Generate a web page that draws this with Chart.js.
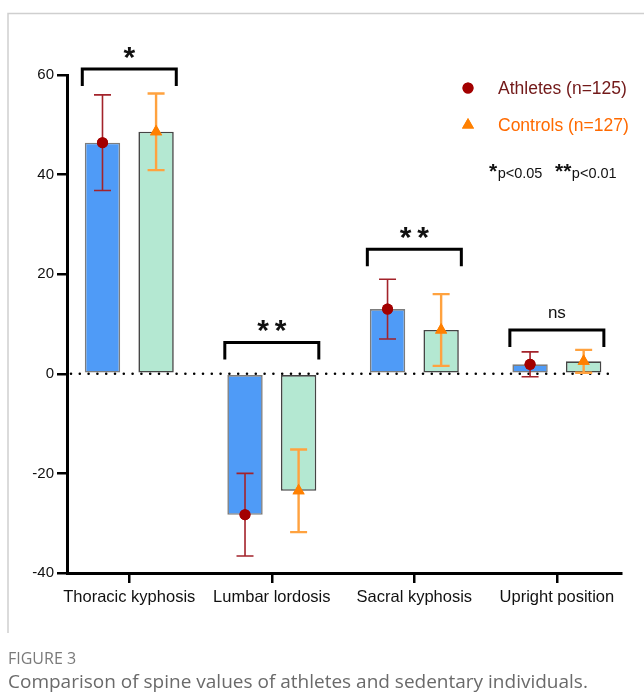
<!DOCTYPE html>
<html>
<head>
<meta charset="utf-8">
<script src="https://cdn.jsdelivr.net/npm/chart.js@4/dist/chart.umd.min.js"></script>
<style>
  html, body { margin: 0; padding: 0; background: #ffffff; }
  #wrap { width: 644px; height: 698px; position: relative; }
  canvas { display: block; }
</style>
</head>
<body>
<div id="wrap"><canvas id="c" width="644" height="698"></canvas></div>
<script>
// ---------------- data ----------------
const categories = ['Thoracic kyphosis', 'Lumbar lordosis', 'Sacral kyphosis', 'Upright position'];
const athletesMean = [46.4, -28.3, 13.0, 1.9];
const athletesSD   = [9.6, 8.3, 6.0, 2.5];
const controlsMean = [48.6, -23.5, 8.8, 2.5];
const controlsSD   = [7.7, 8.3, 7.2, 2.3];
const significance = ['*', '**', '**', 'ns'];
const bracketLevel = [61.2, 6.3, 25.0, 8.8];
const yTickValues  = [-40, -20, 0, 20, 40, 60];
const seriesNames  = ['Athletes (n=125)', 'Controls (n=127)'];
const pValueNotes  = [['*', 'p<0.05'], ['**', 'p<0.01']];
const captionTitle = 'FIGURE 3';
const captionText  = 'Comparison of spine values of athletes and sedentary individuals.';

// ---------------- styles ----------------
const FONT = "'Liberation Sans', Arial, sans-serif";
const athleteMarker = '#a30000';
const athleteErr = '#a3232b';
const controlMarker = '#ff8000';
const controlErr = '#ffa23f';

const overlay = {
  id: 'overlay',
  afterDatasetsDraw(chart) {
    const ctx = chart.ctx;
    const y = chart.scales.y;
    const x = chart.scales.x;
    const y0 = y.getPixelForValue(0);
    // dotted zero line
    ctx.save();
    ctx.strokeStyle = '#000';
    ctx.lineWidth = 2.6;
    ctx.lineCap = 'round';
    ctx.setLineDash([0, 8.8]);
    ctx.beginPath();
    ctx.moveTo(x.left + 4, y0);
    ctx.lineTo(x.right - 6, y0);
    ctx.stroke();
    ctx.restore();

    // error bars + markers
    const sets = [
      {means: athletesMean, sd: athletesSD, err: athleteErr, mk: athleteMarker, style: 'circle', lw: 1.6, r: 5.5},
      {means: controlsMean, sd: controlsSD, err: controlErr, mk: controlMarker, style: 'triangle', lw: 2.4, r: 7}
    ];
    sets.forEach((s, di) => {
      const meta = chart.getDatasetMeta(di);
      meta.data.forEach((bar, i) => {
        const cx = bar.x;
        const top = y.getPixelForValue(s.means[i] + s.sd[i]);
        const bot = y.getPixelForValue(s.means[i] - s.sd[i]);
        ctx.save();
        ctx.strokeStyle = s.err;
        ctx.lineWidth = s.lw;
        ctx.beginPath();
        ctx.moveTo(cx, top); ctx.lineTo(cx, bot);
        ctx.moveTo(cx - 8.5, top); ctx.lineTo(cx + 8.5, top);
        ctx.moveTo(cx - 8.5, bot); ctx.lineTo(cx + 8.5, bot);
        ctx.stroke();
        ctx.restore();
        ctx.save();
        ctx.fillStyle = s.mk;
        ctx.strokeStyle = s.mk;
        Chart.helpers.drawPoint(ctx, {pointStyle: s.style, radius: s.r, borderWidth: 0, rotation: 0}, cx, y.getPixelForValue(s.means[i]));
        ctx.fill();
        ctx.restore();
      });
    });
  },
  afterDraw(chart) {
    const ctx = chart.ctx;
    const y = chart.scales.y;
    const x = chart.scales.x;
    ctx.save();
    // frame
    ctx.strokeStyle = '#cfcfcf';
    ctx.lineWidth = 1.5;
    ctx.beginPath();
    ctx.moveTo(8, 633); ctx.lineTo(8, 13.5); ctx.lineTo(644, 13.5);
    ctx.stroke();

    // brackets
    ctx.strokeStyle = '#000';
    ctx.lineWidth = 3;
    ctx.lineJoin = 'miter';
    categories.forEach((c, i) => {
      const cx = x.getPixelForValue(i);
      const by = y.getPixelForValue(bracketLevel[i]);
      ctx.beginPath();
      ctx.moveTo(cx - 47, by + 17);
      ctx.lineTo(cx - 47, by);
      ctx.lineTo(cx + 47, by);
      ctx.lineTo(cx + 47, by + 17);
      ctx.stroke();
      ctx.fillStyle = '#111';
      ctx.textAlign = 'center';
      if (significance[i] === 'ns') {
        ctx.font = '17px ' + FONT;
        ctx.textBaseline = 'middle';
        ctx.fillText('ns', cx, by - 17);
      } else {
        ctx.font = 'bold 30px ' + FONT;
        ctx.textBaseline = 'alphabetic';
        const m = ctx.measureText(significance[i]);
        const mid = (m.actualBoundingBoxAscent - m.actualBoundingBoxDescent) / 2;
        ctx.fillText(significance[i].split('').join('\u2009'), cx, by - 16 + mid);
      }
    });

    // legend
    const lx = 468;
    ctx.fillStyle = athleteMarker;
    Chart.helpers.drawPoint(ctx, {pointStyle: 'circle', radius: 5.5, borderWidth: 0}, lx, 88);
    ctx.fill();
    ctx.fillStyle = controlMarker;
    Chart.helpers.drawPoint(ctx, {pointStyle: 'triangle', radius: 7, borderWidth: 0}, lx, 125);
    ctx.fill();
    ctx.font = '17.5px ' + FONT;
    ctx.textAlign = 'left';
    ctx.textBaseline = 'middle';
    ctx.fillStyle = '#721919';
    ctx.fillText(seriesNames[0], 498, 89);
    ctx.fillStyle = '#ff6a00';
    ctx.fillText(seriesNames[1], 498, 126);

    // p-value notes
    ctx.fillStyle = '#111';
    ctx.textBaseline = 'alphabetic';
    const starX = [489, 555];
    pValueNotes.forEach(([star, txt], k) => {
      let px = starX[k];
      ctx.font = 'bold 21px ' + FONT;
      ctx.fillText(star, px, 178);
      px += ctx.measureText(star).width + 0.5;
      ctx.font = '14.5px ' + FONT;
      ctx.fillText(txt, px, 178);
    });

    // caption
    ctx.fillStyle = '#7a7a7a';
    ctx.font = "16px 'Open Sans', 'Noto Sans', sans-serif";
    ctx.fillText(captionTitle, 8, 664);
    ctx.fillStyle = '#6a6a6a';
    ctx.font = "19px 'Open Sans', 'Noto Sans', sans-serif";
    ctx.fillText(captionText, 8, 688);
    ctx.restore();
  }
};

const ctx = document.getElementById('c').getContext('2d');
new Chart(ctx, {
  type: 'bar',
  data: {
    datasets: [
      {
        label: seriesNames[0],
        data: athletesMean.map((v, i) => ({x: i, y: v})),
        backgroundColor: '#4f9bf7',
        borderColor: '#7d7d7d',
        borderWidth: 1.6,
        borderSkipped: false
      },
      {
        label: seriesNames[1],
        data: controlsMean.map((v, i) => ({x: i, y: v})),
        backgroundColor: '#b4e8d2',
        borderColor: '#454545',
        borderWidth: 1.6,
        borderSkipped: false
      }
    ]
  },
  options: {
    responsive: false,
    animation: false,
    devicePixelRatio: 1,
    categoryPercentage: 0.752,
    barPercentage: 0.66,
    layout: { padding: { left: 0, top: 75, right: 23, bottom: 85 } },
    plugins: { legend: { display: false }, tooltip: { enabled: false } },
    scales: {
      x: {
        type: 'linear',
        offset: false,
        min: -0.437,
        max: 3.45,
        afterBuildTicks: s => { s.ticks = categories.map((_, i) => ({value: i})); },
        afterFit: s => { s.height = 40; },
        ticks: {
          callback: v => categories[v],
          autoSkip: false,
          maxRotation: 0,
          color: '#111',
          padding: 5,
          font: { family: FONT, size: 16.5 }
        },
        grid: { offset: false, drawOnChartArea: false, drawTicks: true, tickLength: 10, color: '#000', lineWidth: 2.5 },
        border: { color: '#000', width: 3 }
      },
      y: {
        min: -40,
        max: 60,
        afterBuildTicks: s => { s.ticks = yTickValues.map(v => ({value: v})); },
        afterFit: s => { s.width = 67; },
        ticks: { color: '#111', padding: 3, font: { family: FONT, size: 15 } },
        grid: { drawOnChartArea: false, drawTicks: true, tickLength: 10, color: '#000', lineWidth: 2.5 },
        border: { color: '#000', width: 3 }
      }
    }
  },
  plugins: [overlay]
});
</script>
</body>
</html>
